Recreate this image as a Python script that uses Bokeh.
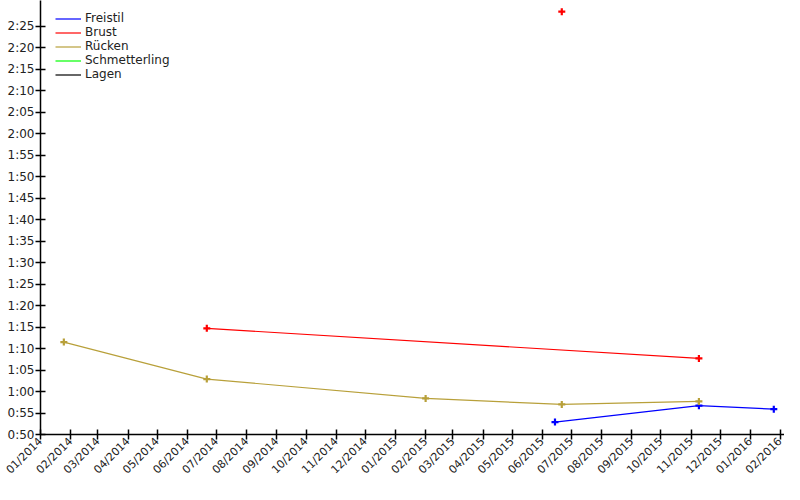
import pandas as pd
from bokeh.plotting import figure
from bokeh.models import (FixedTicker, CustomJSTickFormatter, DatetimeTickFormatter,
                          Range1d, Legend, LegendItem)
from bokeh.embed import file_html
from bokeh.resources import INLINE
from math import pi

# ---- data (times in seconds) ----
freistil_dates = ["2015-06-14", "2015-11-09", "2016-01-25"]
freistil_times = [52.9, 56.7, 55.9]

brust_dates = ["2014-06-21", "2015-11-09"]
brust_times = [74.7, 67.7]

brust_single_dates = ["2015-06-21"]
brust_single_times = [148.4]

ruecken_dates = ["2014-01-25", "2014-06-21", "2015-02-01", "2015-06-21", "2015-11-09"]
ruecken_times = [71.5, 62.9, 58.4, 57.0, 57.7]

# series without any data (legend only)
schmetterling_dates = ["2014-01-01"]
schmetterling_times = [float("nan")]
lagen_dates = ["2014-01-01"]
lagen_times = [float("nan")]

series_names = ["Freistil", "Brust", "Rücken", "Schmetterling", "Lagen"]
series_colors = ["#0000ff", "#ff0000", "#b8a03a", "#00ff00", "#000000"]

month_ticks = pd.date_range("2014-01-01", "2016-02-01", freq="MS")
y_ticks = list(range(50, 150, 5))

FONT = "DejaVu Sans"

p = figure(width=784, height=484, x_axis_type="datetime",
           output_backend="svg", toolbar_location=None,
           min_border_left=40, min_border_right=0, min_border_top=0, min_border_bottom=0)
p.x_range = Range1d(pd.Timestamp("2014-01-01"), pd.Timestamp("2016-02-05"))
p.y_range = Range1d(50, 151)
p.outline_line_color = None
p.grid.visible = False

def D(lst):
    return pd.to_datetime(lst)

r_frei = p.line(D(freistil_dates), freistil_times, color=series_colors[0], line_width=1.2)
p.scatter(D(freistil_dates), freistil_times, marker="cross", size=7, line_width=2.2, color=series_colors[0])

r_brust = p.line(D(brust_dates), brust_times, color=series_colors[1], line_width=1.2)
p.scatter(D(brust_dates), brust_times, marker="cross", size=7, line_width=2.2, color=series_colors[1])
p.scatter(D(brust_single_dates), brust_single_times, marker="cross", size=7, line_width=2.2, color=series_colors[1])

r_rue = p.line(D(ruecken_dates), ruecken_times, color=series_colors[2], line_width=1.2)
p.scatter(D(ruecken_dates), ruecken_times, marker="cross", size=7, line_width=2.2, color=series_colors[2])

r_schm = p.line(D(schmetterling_dates), schmetterling_times, color=series_colors[3], line_width=1.2)
r_lagen = p.line(D(lagen_dates), lagen_times, color=series_colors[4], line_width=1.2)

renderers = [r_frei, r_brust, r_rue, r_schm, r_lagen]
items = [LegendItem(label=n, renderers=[r]) for n, r in zip(series_names, renderers)]
legend = Legend(items=items, location=(15, 353), background_fill_alpha=0,
                border_line_alpha=0, label_text_font_size="12px", label_text_font=FONT,
                label_text_color="#222222",
                glyph_width=26, glyph_height=13, label_height=13, spacing=0,
                padding=0, margin=0, label_standoff=4, label_text_line_height=1.0)
p.add_layout(legend, "center")

# axes
p.yaxis.ticker = FixedTicker(ticks=y_ticks)
p.yaxis.formatter = CustomJSTickFormatter(code="""
const m = Math.floor(tick / 60);
const s = Math.round(tick - m * 60);
return m + ":" + (s < 10 ? "0" : "") + s;
""")
p.xaxis.ticker = FixedTicker(ticks=[t.value // 10**6 for t in month_ticks])
fmt = "%m/%Y"
p.xaxis.formatter = DatetimeTickFormatter(days=fmt, months=fmt, years=fmt, hours=fmt,
                                          minutes=fmt, seconds=fmt, milliseconds=fmt,
                                          microseconds=fmt, hourmin=fmt, minsec=fmt)
p.xaxis.major_label_orientation = pi / 4

for ax in (p.xaxis[0], p.yaxis[0]):
    ax.axis_line_color = "black"
    ax.axis_line_width = 1.5
    ax.major_tick_line_color = "black"
    ax.major_tick_line_width = 1.5
    ax.major_tick_in = 5
    ax.major_tick_out = 5
    ax.minor_tick_line_color = None
    ax.major_label_text_font = FONT
    ax.major_label_text_color = "#222222"
p.yaxis.major_label_text_font_size = "12px"
p.xaxis.major_label_text_font_size = "11px"
p.yaxis.major_label_standoff = 1
p.xaxis.major_label_standoff = 0

open("out.html", "w").write(file_html(p, INLINE))
